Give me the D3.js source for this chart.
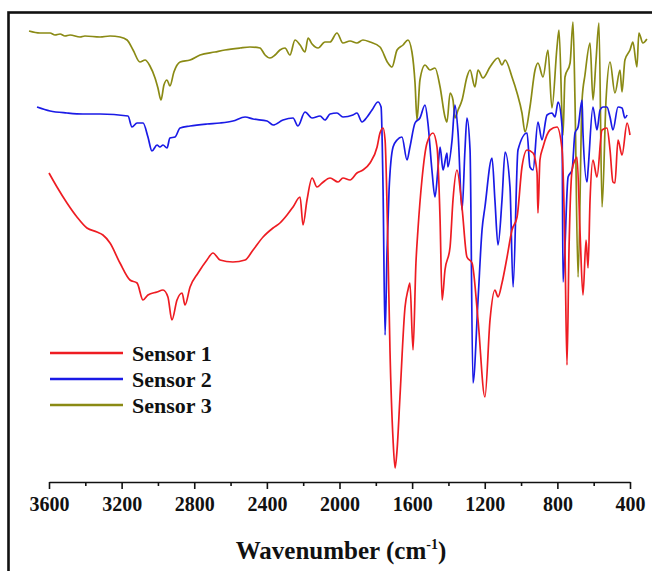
<!DOCTYPE html>
<html>
<head>
<meta charset="utf-8">
<script src="https://cdn.jsdelivr.net/npm/d3@7"></script>
<style>
  body { margin: 0; background: #fff; }
  svg { display: block; }
  .serif { font-family: "Liberation Serif", Tinos, "DejaVu Serif", "Noto Serif", Times, serif; font-weight: bold; fill: #111; }
  .axis text { font-family: "Liberation Serif", Tinos, "DejaVu Serif", "Noto Serif", Times, serif; font-weight: bold; font-size: 20px; fill: #111; }
  .axis path, .axis line { stroke: #111; stroke-width: 1.6; }
</style>
</head>
<body>
<div id="chart"></div>
<script>
// FTIR spectra, wavenumber (cm-1) and transmittance (arbitrary offset units)
var sensorNames = ["Sensor 1", "Sensor 2", "Sensor 3"];
var majorTicks = [3600, 3200, 2800, 2400, 2000, 1600, 1200, 800, 400];
var minorTicks = [3400, 3000, 2600, 2200, 1800, 1400, 1000, 600];

var s1Wave = [3600, 3556, 3501, 3446, 3391, 3336, 3303, 3264, 3209, 3154, 3115, 3082, 3055, 3005, 2972, 2945, 2923, 2895, 2867, 2851, 2823, 2779, 2730, 2697, 2658, 2587, 2520, 2476, 2421, 2366, 2328, 2289, 2256, 2217, 2201, 2179, 2151, 2124, 2096, 2052, 2008, 1981, 1942, 1904, 1871, 1832, 1793, 1777, 1760, 1749, 1733, 1722, 1705, 1694, 1683, 1667, 1639, 1623, 1612, 1595, 1579, 1568, 1546, 1518, 1485, 1463, 1446, 1435, 1419, 1391, 1375, 1353, 1325, 1298, 1270, 1237, 1199, 1171, 1144, 1127, 1105, 1077, 1050, 1022, 995, 967, 934, 912, 907, 896, 879, 841, 802, 774, 758, 747, 736, 719, 703, 692, 675, 659, 642, 631, 620, 604, 582, 554, 527, 510, 494, 483, 466, 444, 416, 400];
var s1T = [65.4, 62.6, 59.4, 56.6, 54.4, 53.6, 53, 51.4, 47.4, 44, 43.4, 40, 41, 41.6, 42, 40.6, 36, 40, 41.4, 39, 42.6, 45.4, 48, 49.4, 48, 47.6, 48, 50, 52.6, 54.4, 55.4, 57, 58.6, 60.6, 55, 60, 64.4, 62.6, 63.4, 64.4, 63.6, 64.4, 64, 65.4, 66, 67.4, 70.6, 73.4, 74.4, 72, 50, 30, 12, 6.4, 10, 20.6, 38.6, 42, 43.4, 30, 47.4, 54, 64, 71.4, 73.4, 70.6, 56, 40, 46, 50.6, 60, 66, 58.4, 48.6, 47.4, 36, 20.6, 36, 42, 40.6, 43.4, 48.6, 54, 56.6, 66.6, 70, 69.4, 65.4, 57.4, 68, 70.6, 74, 74.6, 70, 50, 27, 50, 66, 68, 68.6, 53.4, 41, 52, 46.4, 60, 68, 64.6, 74, 74.4, 70, 63.6, 63.4, 72, 69, 75.4, 73];

var s2Wave = [3666, 3594, 3501, 3413, 3319, 3165, 3143, 3115, 3082, 3055, 3033, 3005, 2989, 2972, 2950, 2934, 2906, 2878, 2823, 2730, 2658, 2587, 2520, 2476, 2399, 2366, 2311, 2256, 2229, 2190, 2151, 2107, 2080, 2052, 2014, 1981, 1926, 1904, 1876, 1848, 1821, 1788, 1771, 1760, 1749, 1738, 1727, 1705, 1683, 1656, 1628, 1612, 1584, 1557, 1529, 1513, 1491, 1474, 1457, 1446, 1430, 1408, 1403, 1380, 1364, 1347, 1325, 1309, 1298, 1281, 1265, 1237, 1215, 1199, 1160, 1144, 1127, 1105, 1088, 1061, 1044, 1017, 967, 951, 934, 907, 885, 857, 830, 813, 796, 774, 769, 741, 719, 703, 686, 664, 659, 637, 631, 604, 582, 565, 549, 527, 510, 494, 466, 444, 428, 416];
var s2T = [78.6, 77.8, 77.4, 77.2, 77.2, 76.8, 74.6, 75.4, 75.4, 72.6, 69.8, 71, 70.6, 71, 70.4, 72.4, 72.6, 74.4, 74.8, 75.2, 75.4, 75.8, 76.6, 76.2, 75.8, 75, 76, 76.4, 74.8, 77.6, 76.4, 76.8, 76, 77.2, 77.4, 76.6, 77, 77.4, 75.6, 76.6, 78, 79.6, 78.6, 62, 33, 50, 62, 70.6, 72, 72.6, 68, 70.6, 75.4, 76.4, 79, 75.4, 66, 60.6, 66.6, 70.6, 66, 69.4, 66.6, 72, 79, 73.4, 58, 70, 76.4, 70, 23.4, 40, 54, 58.6, 68.4, 60, 51, 60, 69.6, 62.6, 42.6, 70, 73.4, 66.6, 66, 75.6, 72, 77, 77.4, 76.6, 79.6, 74.6, 43.6, 64.6, 66, 73.4, 74.6, 80, 73.4, 63.6, 66, 78.6, 74, 78, 78.6, 78.6, 76.6, 74, 78.6, 78.4, 76.4, 77];

var s3Wave = [3710, 3650, 3594, 3567, 3539, 3512, 3484, 3429, 3402, 3319, 3264, 3209, 3170, 3137, 3099, 3071, 3044, 3016, 3000, 2983, 2967, 2950, 2934, 2912, 2878, 2823, 2768, 2686, 2631, 2548, 2493, 2438, 2410, 2383, 2355, 2328, 2300, 2273, 2245, 2217, 2190, 2173, 2151, 2118, 2080, 2052, 2014, 1981, 1942, 1904, 1871, 1832, 1777, 1733, 1711, 1683, 1650, 1623, 1601, 1584, 1573, 1557, 1529, 1502, 1474, 1446, 1419, 1408, 1391, 1375, 1364, 1347, 1325, 1298, 1281, 1254, 1237, 1210, 1171, 1127, 1105, 1088, 1050, 1022, 995, 978, 951, 923, 907, 879, 852, 830, 802, 791, 769, 758, 730, 714, 703, 686, 664, 648, 620, 604, 587, 571, 554, 532, 510, 483, 455, 444, 428, 400, 384, 362, 351, 329, 307];
var s3T = [93.8, 93.4, 93.4, 93, 93.2, 92.8, 93, 92.6, 92.8, 92.6, 92.8, 92.6, 92, 90, 87.6, 88, 86.8, 84.4, 82.4, 80, 83, 84, 82.8, 85.6, 87.6, 88, 89, 89.6, 90, 90.4, 90.6, 90.4, 89, 88.4, 89, 90, 90.4, 89, 92, 91, 89.6, 92.4, 91.2, 90.4, 91.6, 91.6, 93.4, 91.4, 91.8, 91.4, 92, 91.6, 90.6, 87.4, 86.6, 90, 91, 92, 89.6, 83.4, 76, 84, 87, 86, 86.4, 82.6, 76.6, 75.6, 81.4, 80, 76.4, 78, 80, 84.6, 86, 82.6, 86, 84.4, 86.6, 88.4, 87, 88, 84.6, 81.4, 77.4, 73.6, 78.6, 86, 87.4, 84.6, 90, 78.4, 90.6, 94, 73, 84.6, 87.4, 95.6, 80, 44.6, 80, 85, 91.4, 80, 88, 95.4, 58.6, 80, 87.6, 81.4, 86, 81.6, 88, 90, 91.6, 86.6, 93.4, 91.4, 92.2];

var colors = ["#ee1c22", "#1a1ae6", "#8a8a14"];

var w = 652, h = 571;

var svg = d3.select("#chart")
  .append("svg")
  .attr("width", w)
  .attr("height", h);

// outer frame (runs off the right and bottom of the picture)
svg.append("rect")
  .attr("x", 8.5)
  .attr("y", 12.5)
  .attr("width", 700)
  .attr("height", 600)
  .style("fill", "none")
  .style("stroke", "#111")
  .style("stroke-width", 2.6);

var xscale = d3.scaleLinear()
  .domain([3600, 400])
  .range([49, 630]);

var yscale = d3.scaleLinear()
  .domain([0, 100])
  .range([500, 0]);

var series = [
  { name: sensorNames[0], wave: s1Wave, t: s1T, color: colors[0] },
  { name: sensorNames[1], wave: s2Wave, t: s2T, color: colors[1] },
  { name: sensorNames[2], wave: s3Wave, t: s3T, color: colors[2] }
];

var line = d3.line()
  .x(function(d) { return xscale(d[0]); })
  .y(function(d) { return yscale(d[1]); })
  .curve(d3.curveMonotoneX);

// draw sensor 3 first, then 2, then 1 on top
series.slice().reverse().forEach(function(s) {
  svg.append("path")
    .datum(d3.zip(s.wave, s.t))
    .attr("class", "line")
    .style("fill", "none")
    .style("stroke", s.color)
    .style("stroke-width", 1.7)
    .style("stroke-linejoin", "round")
    .attr("d", line);
});

var xaxis = d3.axisBottom()
  .scale(xscale)
  .tickValues(majorTicks)
  .tickFormat(d3.format("d"))
  .tickSize(7)
  .tickSizeOuter(0)
  .tickPadding(8);

var minorAxis = d3.axisBottom()
  .scale(xscale)
  .tickValues(minorTicks)
  .tickFormat("")
  .tickSize(4)
  .tickSizeOuter(0);

var gx = svg.append("g")
  .attr("class", "axis")
  .attr("transform", "translate(0,482)")
  .call(xaxis);
gx.selectAll("text").attr("font-family", null).attr("font-size", null);

var gm = svg.append("g")
  .attr("class", "axis")
  .attr("transform", "translate(0,482)")
  .call(minorAxis);
gm.select(".domain").remove();

// axis title
var title = svg.append("text")
  .attr("class", "serif")
  .attr("x", 341)
  .attr("y", 559)
  .attr("text-anchor", "middle")
  .style("font-size", "25px");
title.append("tspan").text("Wavenumber (cm");
title.append("tspan").attr("dy", -10).style("font-size", "14px").text("-1");
title.append("tspan").attr("dy", 10).text(")");

// legend
var legend = svg.selectAll(".legend")
  .data(series)
  .enter().append("g")
  .attr("class", "legend")
  .attr("transform", function(d, i) { return "translate(50," + (353 + i * 26) + ")"; });

legend.append("line")
  .attr("x1", 0)
  .attr("x2", 73)
  .attr("y1", 0)
  .attr("y2", 0)
  .style("stroke", function(d) { return d.color; })
  .style("stroke-width", 2.6);

legend.append("text")
  .attr("class", "serif")
  .attr("x", 82)
  .attr("y", 8)
  .style("font-size", "22px")
  .text(function(d) { return d.name; });
</script>
</body>
</html>
